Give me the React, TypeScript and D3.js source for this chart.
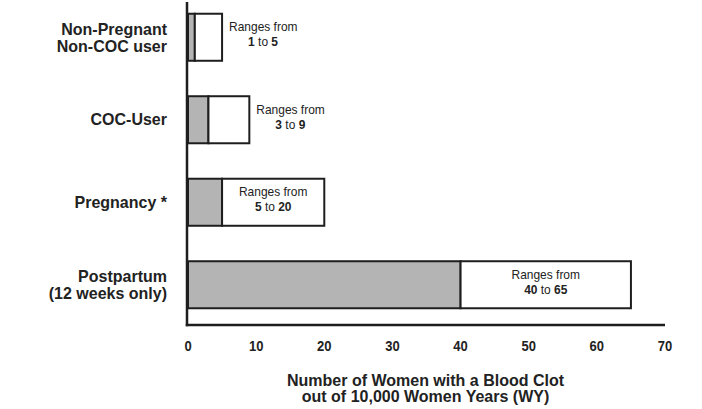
import React from "react";
import * as d3 from "d3";

const categories: string[][] = [
  ["Non-Pregnant", "Non-COC user"],
  ["COC-User"],
  ["Pregnancy *"],
  ["Postpartum", "(12 weeks only)"],
];
const lowValues = [1, 3, 5, 40];
const highValues = [5, 9, 20, 65];
const xTicks = [0, 10, 20, 30, 40, 50, 60, 70];
const xTitle = ["Number of Women with a Blood Clot", "out of 10,000 Women Years (WY)"];

const W = 702;
const H = 409;
const FONT = "'Liberation Sans', Arial, Helvetica, sans-serif";

function T(props: {
  x: number;
  y: number;
  size: number;
  sx: number;
  anchor: "start" | "middle" | "end";
  bold?: boolean;
  children: React.ReactNode;
}) {
  return (
    <text
      transform={`translate(${props.x},${props.y}) scale(${props.sx},1)`}
      fontSize={props.size}
      fontWeight={props.bold ? "bold" : "normal"}
      fill="#222"
      textAnchor={props.anchor}
    >
      {props.children}
    </text>
  );
}

export default function App() {
  const x = d3.scaleLinear().domain([0, 70]).range([188, 665]);
  const keys = categories.map((c) => c.join(" "));
  const y = d3
    .scaleBand<string>()
    .domain(keys)
    .range([-4, 326])
    .paddingInner(0.43)
    .paddingOuter(0.215);
  const bw = y.bandwidth();
  const axisY = 325;

  return (
    <svg
      width={W}
      height={H}
      style={{ position: "absolute", left: 0, top: 0, background: "#fff" }}
      fontFamily={FONT}
    >
      {keys.map((k, i) => {
        const y0 = y(k)!;
        const cy = y0 + bw / 2;
        const lo = lowValues[i];
        const hi = highValues[i];
        const wWhite = x(hi) - x(lo);
        const inside = wWhite > 80;
        const tx = inside ? (x(lo) + x(hi)) / 2 : x(hi) + 7;
        const lines = categories[i];
        return (
          <g key={k}>
            <rect x={x(0)} y={y0} width={x(lo) - x(0)} height={bw} fill="#b4b4b4" stroke="#1e1e1e" strokeWidth={2} />
            <rect x={x(lo)} y={y0} width={wWhite} height={bw} fill="#fff" stroke="#1e1e1e" strokeWidth={2} />
            <T x={tx} y={cy - 6} size={13} sx={0.92} anchor={inside ? "middle" : "start"}>
              Ranges from
            </T>
            <T x={inside ? tx : tx + 34} y={cy + 9} size={13} sx={0.92} anchor="middle">
              <tspan fontWeight="bold">{lo}</tspan>
              <tspan> to </tspan>
              <tspan fontWeight="bold">{hi}</tspan>
            </T>
            {lines.length === 1 ? (
              <T x={167} y={cy + 5.5} size={16.5} sx={0.97} anchor="end" bold>
                {lines[0]}
              </T>
            ) : (
              lines.map((l, j) => (
                <T key={j} x={167} y={cy - 2.5 + j * 17} size={16.5} sx={0.97} anchor="end" bold>
                  {l}
                </T>
              ))
            )}
          </g>
        );
      })}
      <line x1={x(0) - 1} x2={x(0) - 1} y1={2} y2={axisY + 1.25} stroke="#1e1e1e" strokeWidth={2.5} />
      <line x1={x(0) - 2.25} x2={x(70)} y1={axisY} y2={axisY} stroke="#1e1e1e" strokeWidth={2.5} />
      {xTicks.map((t) => (
        <T key={t} x={x(t)} y={351} size={14} sx={0.93} anchor="middle" bold>
          {t}
        </T>
      ))}
      {xTitle.map((l, j) => (
        <T key={j} x={425.5} y={386 + j * 16} size={16} sx={1} anchor="middle" bold>
          {l}
        </T>
      ))}
    </svg>
  );
}
